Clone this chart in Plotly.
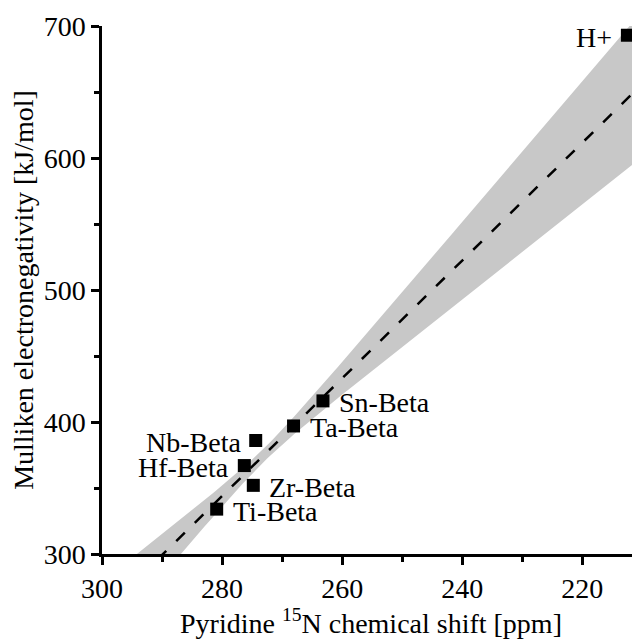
import numpy as np
import plotly.graph_objects as go

# ---- data ----
labels = ["H+", "Sn-Beta", "Ta-Beta", "Nb-Beta", "Hf-Beta", "Zr-Beta", "Ti-Beta"]
shift_ppm = [212.5, 263.2, 268.1, 274.4, 276.3, 274.8, 280.9]
electroneg = [693, 416, 397, 386, 367, 352, 334]
label_side = ["left", "right", "right", "left", "left", "right", "right"]

x_ticks = [300, 280, 260, 240, 220]
y_ticks = [300, 400, 500, 600, 700]
x_range = [300, 210.4]
y_range = [300, 700]

# ---- linear fit of the Beta samples (H+ excluded) with standard-error band ----
fx = np.array(shift_ppm[1:], dtype=float)
fy = np.array(electroneg[1:], dtype=float)
slope, intercept = np.polyfit(fx, fy, 1)
n = len(fx)
resid = fy - (slope * fx + intercept)
s = np.sqrt(np.sum(resid ** 2) / (n - 2))
sxx = np.sum((fx - fx.mean()) ** 2)
xs = np.linspace(x_range[0], x_range[1], 200)
ys = slope * xs + intercept
se = s * np.sqrt(1.0 / n + (xs - fx.mean()) ** 2 / sxx)
upper = ys + se
lower = ys - se

font = "Liberation Serif, Times New Roman, serif"
FS = 28

fig = go.Figure()
fig.add_trace(go.Scatter(
    x=np.concatenate([xs, xs[::-1]]), y=np.concatenate([upper, lower[::-1]]),
    fill="toself", fillcolor="rgb(200,200,200)", line=dict(width=0),
    mode="lines", hoverinfo="skip", showlegend=False))
fig.add_trace(go.Scatter(
    x=xs, y=ys, mode="lines",
    line=dict(color="black", width=2.5, dash="12px,14px"),
    showlegend=False))
fig.add_trace(go.Scatter(
    x=shift_ppm, y=electroneg, mode="markers",
    marker=dict(symbol="square", size=13, color="black"),
    cliponaxis=False, showlegend=False))

for lab, xv, yv, side in zip(labels, shift_ppm, electroneg, label_side):
    fig.add_annotation(
        x=xv, y=yv, text=lab, showarrow=False,
        xanchor="right" if side == "left" else "left", yanchor="middle",
        xshift=-13 if side == "left" else 14, yshift=-2,
        font=dict(family=font, size=FS, color="black"))

axis_common = dict(
    showline=True, linecolor="black", linewidth=2.5,
    ticks="outside", ticklen=8, tickwidth=2.5, tickcolor="black",
    showgrid=False, zeroline=False,
    tickfont=dict(family=font, size=FS, color="black"),
)
fig.update_xaxes(
    range=x_range, tickvals=x_ticks,
    minor=dict(dtick=10, tick0=300, ticks="outside", ticklen=5, tickwidth=2.5, tickcolor="black"),
    title=dict(text="Pyridine <sup>15</sup>N chemical shift [ppm]",
               font=dict(family=font, size=FS, color="black"), standoff=6),
    **axis_common)
fig.update_yaxes(
    range=y_range, tickvals=y_ticks,
    minor=dict(dtick=50, tick0=300, ticks="outside", ticklen=5, tickwidth=2.5, tickcolor="black"),
    title=dict(text="Mulliken electronegativity [kJ/mol]",
               font=dict(family=font, size=FS, color="black"), standoff=6),
    ticklabelstandoff=0,
    **axis_common)

# page body has an 8px margin, so the figure is shifted by 8px on screen
fig.update_layout(
    width=632, height=631,
    margin=dict(l=94, r=0, t=18, b=85),
    paper_bgcolor="white", plot_bgcolor="white",
    showlegend=False,
)

fig.write_html("out.html")
